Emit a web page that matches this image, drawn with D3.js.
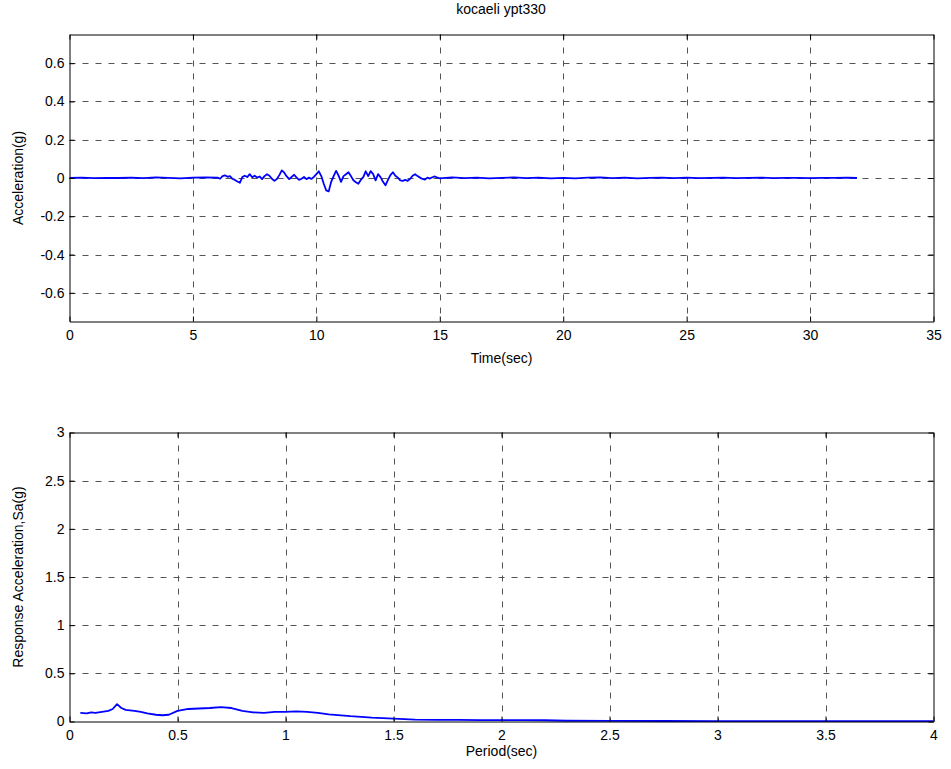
<!DOCTYPE html>
<html>
<head>
<meta charset="utf-8">
<script src="https://cdn.jsdelivr.net/npm/d3@7"></script>
<style>
body { margin: 0; background: #fff; }
svg { font-family: "Liberation Sans", Arial, sans-serif; }
</style>
</head>
<body>
<script>
//ground motion record, time (sec) and acceleration (g)
let timeSec = [0, 0.5, 1, 1.5, 2, 2.5, 3, 3.5, 4, 4.5, 5, 5.5,
	6.0, 6.1, 6.2, 6.3, 6.4, 6.5, 6.6, 6.7, 6.8, 6.9,
	7.0, 7.1, 7.2, 7.3, 7.4, 7.5, 7.6, 7.7, 7.8, 7.9,
	8.0, 8.1, 8.2, 8.3, 8.4, 8.5, 8.6, 8.7, 8.8, 8.9,
	9.0, 9.1, 9.2, 9.3, 9.4, 9.5, 9.6, 9.7, 9.8, 9.9,
	10.0, 10.1, 10.2, 10.3, 10.4, 10.5, 10.6, 10.7, 10.8, 10.9,
	11.0, 11.1, 11.2, 11.3, 11.4, 11.5, 11.6, 11.7, 11.8, 11.9,
	12.0, 12.1, 12.2, 12.3, 12.4, 12.5, 12.6, 12.7, 12.8, 12.9,
	13.0, 13.1, 13.2, 13.3, 13.4, 13.5, 13.6, 13.7, 13.8, 13.9,
	14.0, 14.1, 14.2, 14.3, 14.4, 14.5, 14.6, 14.7, 14.8, 14.9,
	15, 15.5, 16, 16.5, 17, 17.5, 18, 18.5, 19, 19.5, 20, 20.5,
	21, 21.5, 22, 22.5, 23, 23.5, 24, 24.5, 25, 25.5, 26, 26.5,
	27, 27.5, 28, 28.5, 29, 29.5, 30, 30.5, 31, 31.5, 31.9];

let accelG = [0.001, 0.002, -0.001, 0.001, 0, 0.002, -0.001, 0.003, 0.001, -0.002, 0.002, 0.003,
	0.002, -0.004, 0.01, 0.014, 0.006, 0.01, -0.004, -0.01, -0.018, -0.025,
	0.005, 0.012, 0.005, 0.02, 0.004, 0.012, 0.002, 0.008, -0.006, 0.01,
	0.02, 0.012, -0.004, -0.015, -0.005, 0.015, 0.04, 0.028, 0.008, -0.006,
	0.006, 0.017, 0.002, -0.01, -0.004, 0.005, -0.006, 0.002, -0.005, 0.006,
	0.02, 0.035, 0.01, -0.03, -0.065, -0.07, -0.02, 0.01, 0.037, 0.012,
	-0.02, 0.01, 0.02, 0.03, 0.01, -0.012, -0.022, -0.03, -0.01, 0.005,
	0.035, 0.01, 0.036, 0.02, -0.012, 0.02, 0.005, -0.02, -0.038, -0.01,
	0.015, 0.03, 0.012, 0.002, -0.012, -0.015, -0.01, -0.015, -0.004, 0.012,
	0.02, 0.01, 0.002, -0.005, -0.008, 0.002, -0.003, 0.004, 0.008, 0.002,
	-0.002, 0.003, -0.001, 0.002, -0.002, 0.001, 0.003, -0.001, 0.002, -0.002, 0.001, -0.002,
	0.002, 0.003, -0.001, 0.002, -0.002, 0.001, 0.002, -0.001, 0.002, -0.001, 0.001, 0.002,
	-0.001, 0.001, 0.002, -0.001, 0.001, 0.001, -0.001, 0.001, 0.001, 0.002, 0];

//response spectrum, period (sec) and Sa (g)
let periodSec = [0.05, 0.08, 0.1, 0.12, 0.15, 0.18, 0.2, 0.22, 0.24, 0.26, 0.28, 0.3, 0.33, 0.36,
	0.4, 0.43, 0.46, 0.5, 0.55, 0.6, 0.65, 0.7, 0.75, 0.8, 0.85, 0.9, 0.95, 1.0, 1.05, 1.1,
	1.15, 1.2, 1.3, 1.4, 1.5, 1.6, 1.7, 1.8, 1.9, 2.0, 2.1, 2.2, 2.3, 2.5, 2.75, 3.0, 3.25,
	3.5, 3.75, 4.0];
let saG = [0.09, 0.085, 0.095, 0.09, 0.1, 0.11, 0.13, 0.18, 0.14, 0.12, 0.115, 0.11, 0.1, 0.085,
	0.07, 0.065, 0.07, 0.11, 0.13, 0.135, 0.14, 0.15, 0.14, 0.11, 0.095, 0.09, 0.1, 0.1, 0.105, 0.1,
	0.09, 0.075, 0.055, 0.04, 0.03, 0.02, 0.017, 0.016, 0.015, 0.015, 0.014, 0.013, 0.008, 0.006,
	0.005, 0.004, 0.004, 0.003, 0.003, 0.003];

let timeTicks = [0, 5, 10, 15, 20, 25, 30, 35];
let accelTicks = [-0.6, -0.4, -0.2, 0, 0.2, 0.4, 0.6];
let periodTicks = [0, 0.5, 1, 1.5, 2, 2.5, 3, 3.5, 4];
let saTicks = [0, 0.5, 1, 1.5, 2, 2.5, 3];

let svg = d3.select("body").append("svg")
	.attr("width", 951)
	.attr("height", 769);

//draws one matlab style panel and returns it
function panel(box, xDomain, yDomain, xTicks, yTicks, xs, ys, xLabel, yLabel) {
	let x = d3.scaleLinear().domain(xDomain).range([box.left, box.right]);
	let y = d3.scaleLinear().domain(yDomain).range([box.bottom, box.top]);
	let w = box.right - box.left;
	let h = box.bottom - box.top;

	let g = svg.append("g");

	//dashed grid
	g.selectAll(".vgrid").data(xTicks.filter(t => t > xDomain[0] && t < xDomain[1])).enter().append("line")
		.attr("x1", d => Math.round(x(d)) + 0.5).attr("x2", d => Math.round(x(d)) + 0.5)
		.attr("y1", box.top).attr("y2", box.bottom)
		.attr("stroke", "#555").attr("stroke-dasharray", "6,7");
	g.selectAll(".hgrid").data(yTicks.filter(t => t > yDomain[0] && t < yDomain[1])).enter().append("line")
		.attr("y1", d => Math.round(y(d)) + 0.5).attr("y2", d => Math.round(y(d)) + 0.5)
		.attr("x1", box.left).attr("x2", box.right)
		.attr("stroke", "#555").attr("stroke-dasharray", "6,7");

	//data line
	let pts = xs.map((v, i) => [v, ys[i]]);
	g.append("path")
		.datum(pts)
		.attr("fill", "none")
		.attr("stroke", "#0000ff")
		.attr("stroke-width", 1.8)
		.attr("stroke-linejoin", "round")
		.attr("d", d3.line().x(d => x(d[0])).y(d => y(d[1])));

	//axes with inward ticks, on all four sides
	let fmt = d => String(d);
	g.append("g").attr("transform", `translate(0,${box.bottom})`)
		.call(d3.axisBottom(x).tickValues(xTicks).tickFormat(fmt).tickSizeInner(-5).tickSizeOuter(0).tickPadding(9));
	g.append("g").attr("transform", `translate(0,${box.top})`)
		.call(d3.axisTop(x).tickValues(xTicks).tickFormat("").tickSizeInner(-5).tickSizeOuter(0));
	g.append("g").attr("transform", `translate(${box.left},0)`)
		.call(d3.axisLeft(y).tickValues(yTicks).tickFormat(fmt).tickSizeInner(-5).tickSizeOuter(0).tickPadding(5));
	g.append("g").attr("transform", `translate(${box.right},0)`)
		.call(d3.axisRight(y).tickValues(yTicks).tickFormat("").tickSizeInner(-5).tickSizeOuter(0));

	g.selectAll(".tick text").attr("font-size", 14).attr("font-family", "Liberation Sans, Arial, sans-serif").attr("fill", "#000");
	g.selectAll(".domain").attr("stroke", "#000");
	g.selectAll(".tick line").attr("stroke", "#000");

	g.append("text")
		.attr("x", box.left + w / 2)
		.attr("y", box.bottom + box.xLabelGap)
		.attr("text-anchor", "middle")
		.attr("font-size", 14)
		.text(xLabel);

	g.append("text")
		.attr("transform", `translate(23,${box.top + h / 2}) rotate(-90)`)
		.attr("text-anchor", "middle")
		.attr("font-size", 14)
		.text(yLabel);

	return g;
}

panel({left: 69.5, right: 933.5, top: 34.5, bottom: 321.5, xLabelGap: 41}, [0, 35], [-0.75, 0.75],
	timeTicks, accelTicks, timeSec, accelG, "Time(sec)", "Acceleration(g)");

panel({left: 69.5, right: 933.5, top: 432.5, bottom: 721.5, xLabelGap: 34}, [0, 4], [0, 3],
	periodTicks, saTicks, periodSec, saG, "Period(sec)", "Response Acceleration,Sa(g)");

svg.append("text")
	.attr("x", 501)
	.attr("y", 14)
	.attr("text-anchor", "middle")
	.attr("font-size", 14)
	.text("kocaeli ypt330");
</script>
</body>
</html>
